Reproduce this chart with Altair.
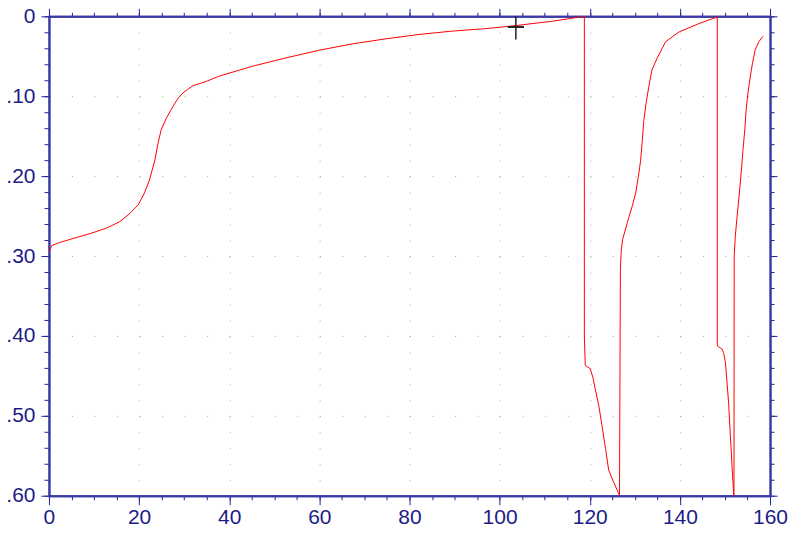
import altair as alt
import pandas as pd

# ---- data ----
x_vals = [0.0, 0.6, 2.4, 5.4, 9.1, 12.8, 15.7, 17.9, 19.8, 21.2, 22.3, 23.5, 24.2, 24.9,
          26.0, 27.5, 28.6, 29.7, 30.8, 31.9, 34.9, 37.8, 45.2, 52.6, 60.0, 67.3, 74.7,
          82.1, 89.5, 96.9, 102.8, 111.6, 118.8,
          118.8, 119.0, 120.1, 120.7, 121.2, 122.0, 122.7, 123.5, 124.2, 125.3, 126.4, 126.6,
          126.7, 126.8, 127.0, 127.3, 128.3, 129.4, 130.2, 130.8, 131.3, 131.6, 132.0, 132.5,
          133.1, 133.8, 134.9, 136.8, 139.8, 144.2, 147.9, 148.3,
          148.3, 148.8, 149.3, 149.7, 150.1, 150.4, 150.8, 151.0, 151.2, 151.4, 151.6, 151.9,
          152.0, 152.05, 152.3, 152.7, 153.2, 153.6, 154.0, 154.4, 154.7, 155.1, 155.6, 156.1,
          156.7, 157.5, 158.4]
y_vals = [-0.295, -0.287, -0.283, -0.278, -0.272, -0.265, -0.257, -0.247, -0.236, -0.221,
          -0.205, -0.180, -0.159, -0.142, -0.128, -0.113, -0.103, -0.096, -0.0914, -0.087,
          -0.0815, -0.0748, -0.0624, -0.052, -0.0424, -0.0345, -0.0282, -0.0227,
          -0.0185, -0.0154, -0.0121, -0.0062, 0.0,
          -0.40, -0.437, -0.441, -0.452, -0.466, -0.487, -0.512, -0.541, -0.568, -0.583,
          -0.597, -0.600,
          -0.45, -0.317, -0.292, -0.279, -0.259, -0.238, -0.221, -0.200, -0.180, -0.159,
          -0.130, -0.109, -0.088, -0.067, -0.053, -0.032, -0.0196, -0.0091, -0.0017, 0.0,
          -0.4125, -0.4145, -0.416, -0.421, -0.433, -0.454, -0.483, -0.504, -0.525, -0.545,
          -0.566, -0.595,
          -0.600, -0.30, -0.275, -0.250, -0.221, -0.196, -0.167, -0.142, -0.117, -0.096,
          -0.076, -0.059, -0.042, -0.032, -0.025]

x_major = [0, 20, 40, 60, 80, 100, 120, 140, 160]
x_minor = [0, 5, 10, 15, 20, 25, 30, 35, 40, 45, 50, 55, 60, 65, 70, 75, 80, 85, 90, 95,
           100, 105, 110, 115, 120, 125, 130, 135, 140, 145, 150, 155, 160]
y_major = [0, -0.1, -0.2, -0.3, -0.4, -0.5, -0.6]
y_minor = [0, -0.02, -0.04, -0.06, -0.08, -0.1, -0.12, -0.14, -0.16, -0.18, -0.2, -0.22,
           -0.24, -0.26, -0.28, -0.3, -0.32, -0.34, -0.36, -0.38, -0.4, -0.42, -0.44, -0.46,
           -0.48, -0.5, -0.52, -0.54, -0.56, -0.58, -0.6]

cursor_x = [103.6]
cursor_y = [0.0]
cursor_y2 = [-0.029]
cursor_hx = [101.8]
cursor_hx2 = [105.4]
cursor_hy = [-0.0133]

df = pd.DataFrame({"x": x_vals, "y": y_vals, "i": list(range(len(x_vals)))})
cur_v = pd.DataFrame({"x": cursor_x, "y": cursor_y, "y2": cursor_y2})
cur_h = pd.DataFrame({"x": cursor_hx, "x2": cursor_hx2, "y": cursor_hy})

AXC = "#3b3ba8"
TKC = "#23239a"
LBC = "#1c1c86"
GRC = "#8cc46a"
FONT = "Liberation Sans"

xs = alt.Scale(domain=[0, 160], nice=False, zero=False)
ys = alt.Scale(domain=[-0.6, 0], nice=False, zero=False)

common = dict(title=None, domainColor=AXC, domainWidth=2, tickColor=TKC, tickWidth=1)

x_main = alt.Axis(orient="bottom", values=x_major, labels=True, labelFont=FONT,
                  labelFontSize=21, labelColor=LBC, labelPadding=2, labelFlush=False,
                  labelOverlap=False, tickSize=9, grid=True, gridColor=GRC,
                  gridDash=[1, 15], gridWidth=1, format="d", **common)
y_main = alt.Axis(orient="left", values=y_major, labels=True, labelFont=FONT,
                  labelFontSize=21, labelColor=LBC, labelPadding=6,
                  labelExpr="datum.value == 0 ? '0' : format(datum.value, '.2f')",
                  tickSize=8, grid=True, gridColor=GRC, gridDash=[1, 21.5625],
                  gridWidth=1, labelOverlap=False, **common)

line = alt.Chart(df).mark_line(color="#ff0000", strokeWidth=1, clip=True).encode(
    x=alt.X("x:Q", scale=xs, axis=x_main),
    y=alt.Y("y:Q", scale=ys, axis=y_main),
    order=alt.Order("i:Q"),
)

def ghost(xaxis, yaxis):
    return alt.Chart(df).mark_point(opacity=0).encode(
        x=alt.X("x:Q", scale=xs, axis=xaxis),
        y=alt.Y("y:Q", scale=ys, axis=yaxis),
    )

minor_bl = ghost(
    alt.Axis(orient="bottom", values=x_minor, labels=False, tickSize=4, grid=False, **common),
    alt.Axis(orient="left", values=y_minor, labels=False, tickSize=5, grid=False, **common),
)
major_tr = ghost(
    alt.Axis(orient="top", values=x_major, labels=False, tickSize=8, grid=False, **common),
    alt.Axis(orient="right", values=y_major, labels=False, tickSize=7, grid=False, **common),
)
minor_tr = ghost(
    alt.Axis(orient="top", values=x_minor, labels=False, tickSize=4, grid=False, **common),
    alt.Axis(orient="right", values=y_minor, labels=False, tickSize=4, grid=False, **common),
)

cv = alt.Chart(cur_v).mark_rule(color="#202020", strokeWidth=1.5).encode(
    x=alt.X("x:Q", scale=xs, axis=None),
    y=alt.Y("y:Q", scale=ys, axis=None),
    y2="y2:Q",
)
ch = alt.Chart(cur_h).mark_rule(color="#202020", strokeWidth=2).encode(
    x=alt.X("x:Q", scale=xs, axis=None),
    x2="x2:Q",
    y=alt.Y("y:Q", scale=ys, axis=None),
)

chart = alt.layer(line, minor_bl, major_tr, minor_tr, cv, ch).resolve_axis(
    x="independent", y="independent"
).properties(
    width=722, height=480, autosize="none",
    padding={"left": 41, "top": 8, "right": 22, "bottom": 40},
    background="white",
).configure_view(stroke=None)

chart.save("out.html", embed_options={"renderer": "svg", "actions": False})
